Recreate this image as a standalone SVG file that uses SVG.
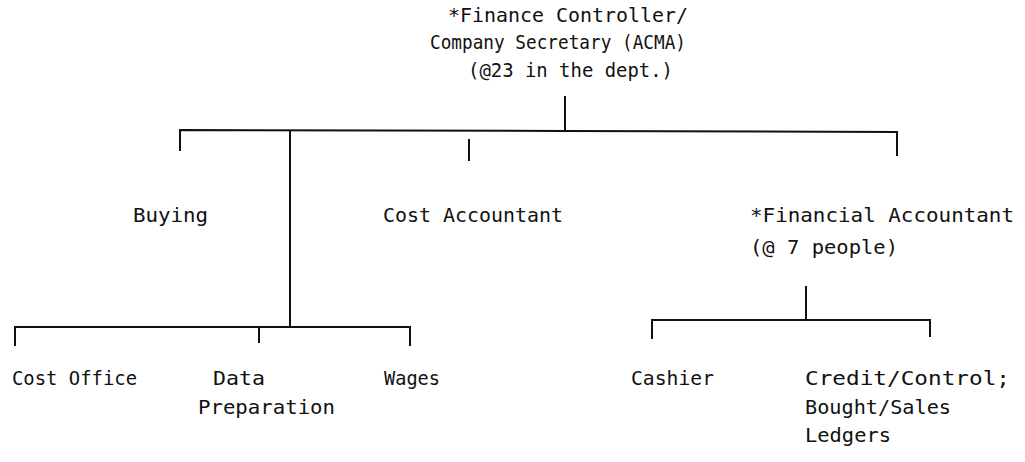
<svg xmlns="http://www.w3.org/2000/svg" width="1025" height="462" viewBox="0 0 1025 462">
  <style>
    .t { font-family: "DejaVu Sans Mono", "Liberation Mono", monospace; font-size: 20px; fill: #111; }
    .c { stroke: #111; stroke-width: 2; fill: none; stroke-linecap: square; }
  </style>
  <rect width="1025" height="462" fill="#fff"/>

  <g id="connectors">
    <!-- top level -->
    <line class="c" x1="565" y1="97" x2="565" y2="131"/>
    <polyline class="c" points="180,150 180,130 565,131 897,132 897,155"/>
    <line class="c" x1="469" y1="140" x2="469" y2="160"/>
    <line class="c" x1="290" y1="131" x2="290" y2="327"/>
    <!-- cost accounting group -->
    <polyline class="c" points="15,345 15,327 410,327 410,345"/>
    <line class="c" x1="259" y1="327" x2="259" y2="342"/>
    <!-- financial accounting group -->
    <line class="c" x1="806" y1="287" x2="806" y2="320"/>
    <polyline class="c" points="652,338 652,320 930,320 930,336"/>
  </g>

  <g id="finance-controller">
    <text class="t" x="448" y="22" textLength="240" lengthAdjust="spacingAndGlyphs">*Finance Controller/</text>
    <text class="t" x="430" y="49" textLength="256" lengthAdjust="spacingAndGlyphs">Company Secretary (ACMA)</text>
    <text class="t" x="468" y="77" textLength="205" lengthAdjust="spacingAndGlyphs">(@23 in the dept.)</text>
  </g>

  <g id="buying">
    <text class="t" x="133" y="222" textLength="75" lengthAdjust="spacingAndGlyphs">Buying</text>
  </g>

  <g id="cost-accountant">
    <text class="t" x="383" y="222" textLength="180" lengthAdjust="spacingAndGlyphs">Cost Accountant</text>
  </g>

  <g id="financial-accountant">
    <text class="t" x="750" y="222" textLength="264" lengthAdjust="spacingAndGlyphs">*Financial Accountant</text>
    <text class="t" x="750" y="254" textLength="148" lengthAdjust="spacingAndGlyphs">(@ 7 people)</text>
  </g>

  <g id="cost-office">
    <text class="t" x="12" y="385" textLength="125" lengthAdjust="spacingAndGlyphs">Cost Office</text>
  </g>

  <g id="data-preparation">
    <text class="t" x="213" y="385" textLength="52" lengthAdjust="spacingAndGlyphs">Data</text>
    <text class="t" x="198" y="414" textLength="137" lengthAdjust="spacingAndGlyphs">Preparation</text>
  </g>

  <g id="wages">
    <text class="t" x="384" y="385" textLength="56" lengthAdjust="spacingAndGlyphs">Wages</text>
  </g>

  <g id="cashier">
    <text class="t" x="631" y="385" textLength="83" lengthAdjust="spacingAndGlyphs">Cashier</text>
  </g>

  <g id="credit-control">
    <text class="t" x="805" y="385" textLength="205" lengthAdjust="spacingAndGlyphs">Credit/Control;</text>
    <text class="t" x="805" y="414" textLength="146" lengthAdjust="spacingAndGlyphs">Bought/Sales</text>
    <text class="t" x="805" y="442" textLength="86" lengthAdjust="spacingAndGlyphs">Ledgers</text>
  </g>
</svg>
